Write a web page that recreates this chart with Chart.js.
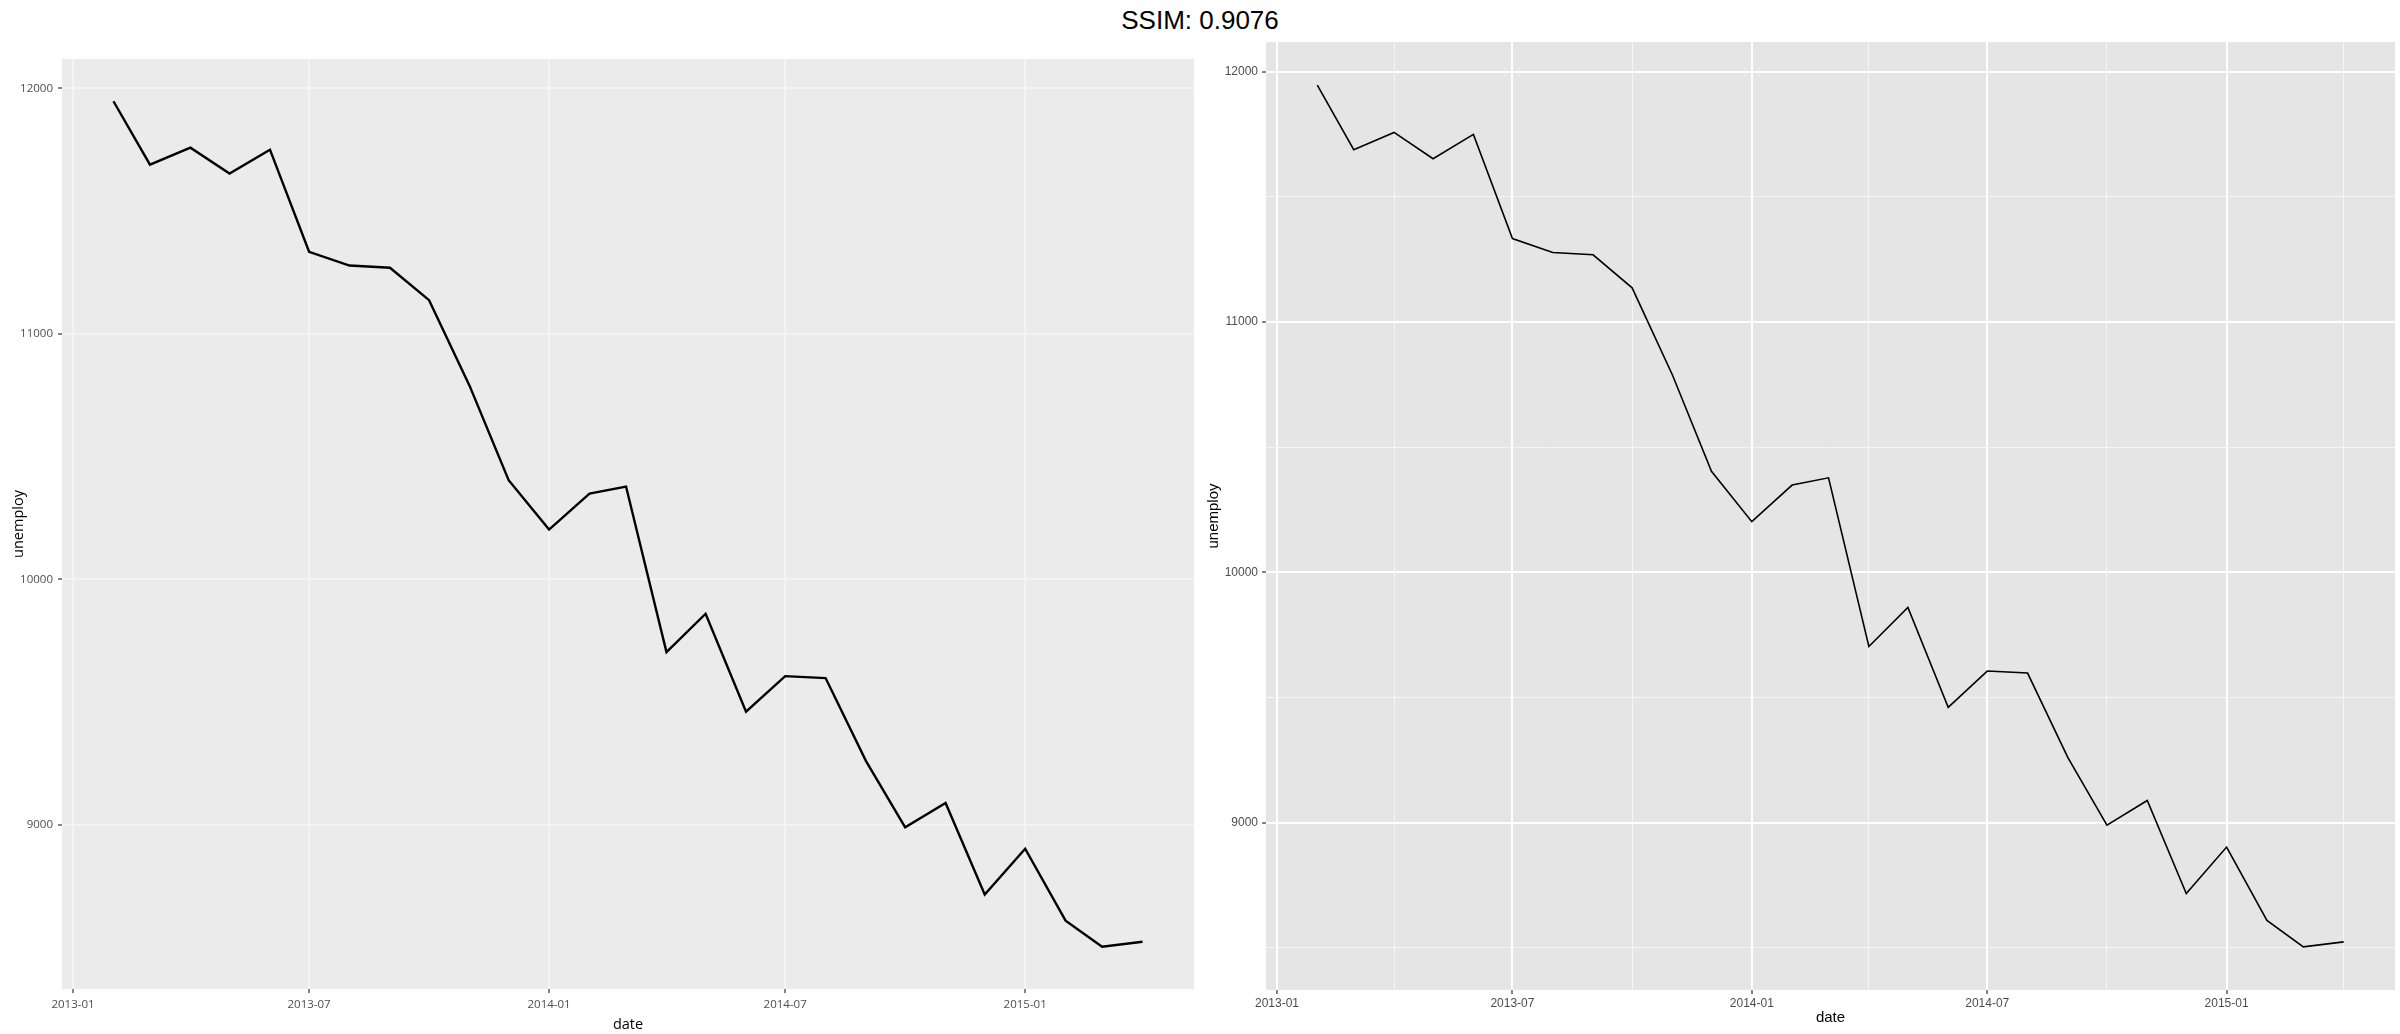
<!DOCTYPE html>
<html lang="en">
<head>
  <meta charset="UTF-8">
  <title>unemploy</title>
  <script src="https://cdn.jsdelivr.net/npm/chart.js@4"></script>
  <style>
    body { margin: 0; background: #fff; }
    #wrap { position: relative; width: 2400px; height: 1034px; overflow: hidden; }
    #title { position: absolute; left: 0; top: 5px; width: 2400px; text-align: center;
             font-family: "Liberation Sans", Arial, sans-serif; font-size: 26px; color: #000; }
    canvas { position: absolute; top: 0; }
    #leftChart { left: 0; }
    #rightChart { left: 1200px; }
  </style>
</head>
<body>
  <div id="wrap">
    <div id="title">SSIM: 0.9076</div>
    <canvas id="leftChart" width="1200" height="1034"></canvas>
    <canvas id="rightChart" width="1200" height="1034"></canvas>
  </div>

  <script>
    // monthly data
    const dates = [
      '2013-02-01', '2013-03-01', '2013-04-01', '2013-05-01', '2013-06-01', '2013-07-01',
      '2013-08-01', '2013-09-01', '2013-10-01', '2013-11-01', '2013-12-01', '2014-01-01',
      '2014-02-01', '2014-03-01', '2014-04-01', '2014-05-01', '2014-06-01', '2014-07-01',
      '2014-08-01', '2014-09-01', '2014-10-01', '2014-11-01', '2014-12-01', '2015-01-01',
      '2015-02-01', '2015-03-01', '2015-04-01'
    ];
    const unemploy = [
      11947, 11689, 11758, 11653, 11750, 11334,
      11278, 11269, 11137, 10789, 10404, 10203,
      10349, 10378, 9704, 9860, 9461, 9606,
      9598, 9260, 8990, 9089, 8717, 8903,
      8610, 8504, 8524
    ];

    // tick positions
    const xMajorTicks = ['2013-01-01', '2013-07-01', '2014-01-01', '2014-07-01', '2015-01-01'];
    const xMinorTicks = ['2013-04-01', '2013-10-01', '2014-04-01', '2014-10-01', '2015-04-01'];
    const yMajorTicks = [9000, 10000, 11000, 12000];
    const yMinorTicks = [8500, 9500, 10500, 11500];

    const times = dates.map(d => Date.parse(d));
    const xMajorSet = new Set(xMajorTicks.map(d => Date.parse(d)));
    const yMajorSet = new Set(yMajorTicks);

    // ggplot-like 5% expansion of the data range
    const xSpan = times[times.length - 1] - times[0];
    const xMin = times[0] - 0.05 * xSpan;
    const xMax = times[times.length - 1] + 0.05 * xSpan;
    const yLo = Math.min(...unemploy), yHi = Math.max(...unemploy);
    const yMin = yLo - 0.05 * (yHi - yLo);
    const yMax = yHi + 0.05 * (yHi - yLo);

    function fmtMonth(ms) {
      const d = new Date(ms);
      return d.getUTCFullYear() + '-' + String(d.getUTCMonth() + 1).padStart(2, '0');
    }

    // fills the plot panel grey
    const panelBg = {
      id: 'panelBg',
      beforeDraw(chart, args, opts) {
        const { ctx, chartArea: a } = chart;
        ctx.save();
        ctx.fillStyle = opts.color;
        ctx.fillRect(a.left, a.top, a.width, a.height);
        ctx.restore();
      }
    };

    function makeChart(id, s) {
      const xTicks = xMajorTicks.map(d => Date.parse(d))
        .concat(s.minor ? xMinorTicks.map(d => Date.parse(d)) : []);
      const yTicks = yMajorTicks.concat(s.minor ? yMinorTicks : []);

      const gridFor = (isMajor) => ({
        color: ctx => isMajor(ctx.tick.value) ? s.gridColor : s.minorColor,
        lineWidth: ctx => isMajor(ctx.tick.value) ? s.gridWidth : 1,
        tickColor: ctx => isMajor(ctx.tick.value) ? '#333333' : 'rgba(0,0,0,0)',
        tickLength: 4,
        tickWidth: 1.2
      });

      return new Chart(document.getElementById(id), {
        type: 'line',
        data: {
          datasets: [{
            data: dates.map((d, i) => ({ x: Date.parse(d), y: unemploy[i] })),
            borderColor: '#000000',
            borderWidth: s.lineWidth,
            pointRadius: 0,
            tension: 0,
            fill: false
          }]
        },
        options: {
          responsive: false,
          animation: false,
          devicePixelRatio: 1,
          layout: { padding: s.padding },
          plugins: {
            legend: { display: false },
            tooltip: { enabled: false },
            panelBg: { color: s.bg }
          },
          scales: {
            x: {
              type: 'linear',
              min: xMin,
              max: xMax,
              afterBuildTicks: sc => { sc.ticks = xTicks.map(v => ({ value: v })); },
              afterFit: sc => { sc.height = s.xAxisHeight; },
              border: { display: false },
              grid: gridFor(v => xMajorSet.has(v)),
              ticks: {
                autoSkip: false,
                maxRotation: 0,
                padding: s.xTickPad,
                color: '#4d4d4d',
                font: { family: s.font, size: s.tickSize },
                callback: v => xMajorSet.has(v) ? fmtMonth(v) : ''
              },
              title: {
                display: true,
                text: 'date',
                color: '#000000',
                font: { family: s.font, size: s.titleSize },
                padding: { top: 0, bottom: s.xTitlePad }
              }
            },
            y: {
              type: 'linear',
              min: yMin,
              max: yMax,
              afterBuildTicks: sc => { sc.ticks = yTicks.map(v => ({ value: v })); },
              afterFit: sc => { sc.width = s.yAxisWidth; },
              border: { display: false },
              grid: gridFor(v => yMajorSet.has(v)),
              ticks: {
                autoSkip: false,
                padding: s.yTickPad,
                color: '#4d4d4d',
                font: { family: s.font, size: s.tickSize },
                callback: v => yMajorSet.has(v) ? String(v) : ''
              },
              title: {
                display: true,
                text: 'unemploy',
                color: '#000000',
                font: { family: s.font, size: s.titleSize },
                padding: { top: s.yTitlePad, bottom: 0 }
              }
            }
          }
        },
        plugins: [panelBg]
      });
    }

    // left panel
    makeChart('leftChart', {
      minor: false,
      bg: '#ebebeb',
      gridColor: '#f4f4f4',
      minorColor: '#f4f4f4',
      gridWidth: 2,
      lineWidth: 2.4,
      font: '"Open Sans", "Noto Sans", sans-serif',
      tickSize: 11.5,
      titleSize: 14.5,
      padding: { top: 59, right: 6, bottom: 0, left: 0 },
      yAxisWidth: 62,
      xAxisHeight: 45,
      xTickPad: 5,
      yTickPad: 5,
      xTitlePad: 0,
      yTitlePad: 10
    });

    // right panel
    makeChart('rightChart', {
      minor: true,
      bg: '#e5e5e5',
      gridColor: '#ffffff',
      minorColor: '#f5f5f5',
      gridWidth: 2,
      lineWidth: 1.6,
      font: '"Liberation Sans", Arial, sans-serif',
      tickSize: 12,
      titleSize: 15,
      padding: { top: 42, right: 5, bottom: 0, left: 0 },
      yAxisWidth: 66,
      xAxisHeight: 44,
      xTickPad: 2,
      yTickPad: 4,
      xTitlePad: 7,
      yTitlePad: 5
    });
  </script>
</body>
</html>
